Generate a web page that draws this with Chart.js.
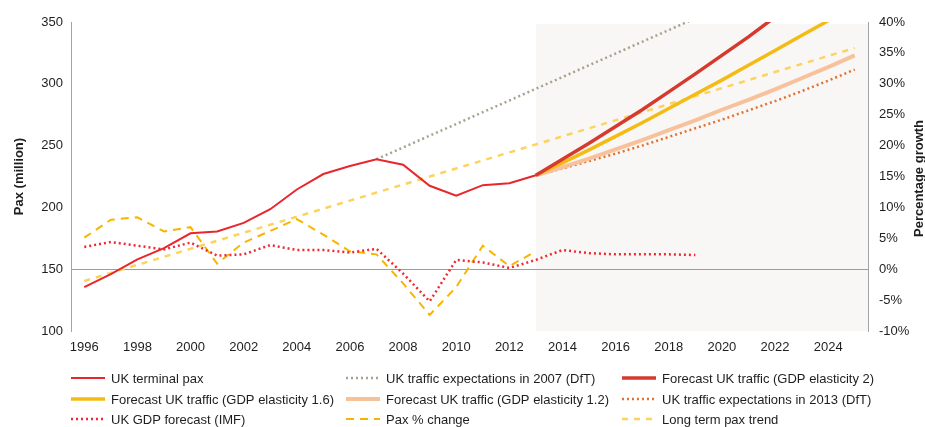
<!DOCTYPE html>
<html>
<head>
    <title>UK pax forecasts</title>
    <style>
        body {
            margin: 0;
            background-color: white;
        }

        #chart-box {
            width: 925px;
            height: 427px;
        }
    </style>
    <script src="https://cdn.jsdelivr.net/npm/chart.js"></script>
</head>
<body>
    <div id="chart-box">
        <canvas id="pax-chart" width="925" height="427"></canvas>
    </div>

    <script>
        // Years on the x axis (every other one gets a label)
        const years = ['1996', '1997', '1998', '1999', '2000', '2001', '2002', '2003', '2004', '2005',
                       '2006', '2007', '2008', '2009', '2010', '2011', '2012', '2013', '2014', '2015',
                       '2016', '2017', '2018', '2019', '2020', '2021', '2022', '2023', '2024', '2025'];
        const forecastStart = '2013';

        // Pax (million), left axis
        const ukTerminalPax = [135.5, 146, 158, 167, 179, 180.5, 187.5, 198.5, 214.5, 227,
                               233.5, 239, 234.5, 217.5, 209.5, 218, 219.5, 226,
                               null, null, null, null, null, null, null, null, null, null, null, null];
        const dft2007 = [null, null, null, null, null, null, null, null, null, null,
                         null, 239, 248.5, 258, 267.5, 277, 286.5, 296, 305.5, 315,
                         324.5, 334, 343.5, 353, null, null, null, null, null, null];
        const elasticity2 = [null, null, null, null, null, null, null, null, null, null,
                             null, null, null, null, null, null, null, 226, 239, 252,
                             265.5, 279, 293.5, 308, 323, 338, 354, null, null, null];
        const elasticity16 = [null, null, null, null, null, null, null, null, null, null,
                              null, null, null, null, null, null, null, 226, 236, 246.5,
                              257.5, 268.5, 280, 291.5, 303, 315, 327, 339, 351, null];
        const elasticity12 = [null, null, null, null, null, null, null, null, null, null,
                              null, null, null, null, null, null, null, 226, 232.5, 239.5,
                              247, 254.5, 262.5, 270.5, 279, 287, 295.5, 304.5, 313.5, 323];
        const dft2013 = [null, null, null, null, null, null, null, null, null, null,
                         null, null, null, null, null, null, null, 226, 231.5, 237.5,
                         243.5, 250, 257, 264, 271, 278.5, 286, 294, 302.5, 311.5];
        const longTermTrend = [140.5, 147, 153.5, 160, 166.5, 173, 179.5, 186, 192.5, 199,
                               205.5, 212, 218.5, 225, 231.5, 238, 244.5, 251, 257.5, 264,
                               270.5, 277, 283.5, 290, 296.5, 303, 309.5, 316, 322.5, 329];

        // Percentage growth, right axis
        const gdpForecastImf = [3.6, 4.4, 3.8, 3.2, 4.3, 2.2, 2.4, 3.9, 3.1, 3.1,
                                2.7, 3.3, -0.7, -5.2, 1.5, 1.1, 0.2, 1.5, 3.1, 2.6,
                                2.4, 2.4, 2.4, 2.3, null, null, null, null, null, null];
        const paxChange = [5.1, 8.0, 8.4, 6.1, 6.8, 0.9, 4.3, 6.2, 8.1, 5.6,
                           2.9, 2.4, -2.3, -7.4, -2.9, 3.8, 0.5, 2.9,
                           null, null, null, null, null, null, null, null, null, null, null, null];

        const fontFamily = '"Liberation Sans", Arial, sans-serif';
        const textColor = '#1e1e1e';
        const axisGray = '#a3a3a3';
        const dotted = [2, 3];

        // light grey panel behind the forecast years
        const forecastShade = {
            id: 'forecastShade',
            beforeDraw(chart) {
                const area = chart.chartArea;
                const x0 = chart.scales.x.getPixelForValue(years.indexOf(forecastStart));
                const ctx = chart.ctx;
                ctx.save();
                ctx.fillStyle = '#f8f7f5';
                ctx.fillRect(x0, area.top + 2, area.right - x0, area.bottom - area.top - 2);
                ctx.restore();
            }
        };

        // right axis title (reads upwards like the left one) and a 3 column legend
        const extras = {
            id: 'extras',
            afterDraw(chart) {
                const ctx = chart.ctx;
                const area = chart.chartArea;
                ctx.save();
                ctx.fillStyle = textColor;
                ctx.font = 'bold 13px ' + fontFamily;
                ctx.textAlign = 'center';
                ctx.textBaseline = 'middle';
                ctx.translate(919, (area.top + area.bottom) / 2 + 2);
                ctx.rotate(-Math.PI / 2);
                ctx.fillText('Percentage growth', 0, 0);
                ctx.restore();

                const colX = [71, 346, 622];
                const rowY = [378, 399, 419];
                ctx.save();
                ctx.font = '13px ' + fontFamily;
                ctx.textBaseline = 'middle';
                ctx.textAlign = 'left';
                chart.data.datasets.forEach((ds, i) => {
                    const x = colX[i % 3];
                    const y = rowY[Math.floor(i / 3)];
                    ctx.strokeStyle = ds.borderColor;
                    ctx.lineWidth = ds.borderWidth;
                    ctx.setLineDash(ds.borderDash || []);
                    ctx.beginPath();
                    ctx.moveTo(x, y);
                    ctx.lineTo(x + 34, y);
                    ctx.stroke();
                    ctx.fillStyle = textColor;
                    ctx.fillText(ds.label, x + 40, y + 1);
                });
                ctx.restore();
            }
        };

        const ctx = document.getElementById('pax-chart').getContext('2d');
        const myChart = new Chart(ctx, {
            type: 'line',
            data: {
                labels: years,
                datasets: [
                    { label: 'UK terminal pax', data: ukTerminalPax, yAxisID: 'y',
                      borderColor: '#e8262b', borderWidth: 2 },
                    { label: 'UK traffic expectations in 2007 (DfT)', data: dft2007, yAxisID: 'y',
                      borderColor: '#a8a18e', borderWidth: 2.5, borderDash: dotted },
                    { label: 'Forecast UK traffic (GDP elasticity 2)', data: elasticity2, yAxisID: 'y',
                      borderColor: '#d63a2e', borderWidth: 3.5 },
                    { label: 'Forecast UK traffic (GDP elasticity 1.6)', data: elasticity16, yAxisID: 'y',
                      borderColor: '#f5bb15', borderWidth: 3.5 },
                    { label: 'Forecast UK traffic (GDP elasticity 1.2)', data: elasticity12, yAxisID: 'y',
                      borderColor: '#f7c29b', borderWidth: 4 },
                    { label: 'UK traffic expectations in 2013 (DfT)', data: dft2013, yAxisID: 'y',
                      borderColor: '#e2702f', borderWidth: 2.5, borderDash: dotted },
                    { label: 'UK GDP forecast (IMF)', data: gdpForecastImf, yAxisID: 'y2',
                      borderColor: '#ee2a30', borderWidth: 2.5, borderDash: dotted },
                    { label: 'Pax % change', data: paxChange, yAxisID: 'y2',
                      borderColor: '#f7b500', borderWidth: 2, borderDash: [8, 6] },
                    { label: 'Long term pax trend', data: longTermTrend, yAxisID: 'y',
                      borderColor: '#fdd35c', borderWidth: 2.5, borderDash: [6, 6] }
                ]
            },
            options: {
                responsive: false,
                animation: false,
                devicePixelRatio: 1,
                layout: { padding: { top: 22, left: 0, right: 0, bottom: 0 } },
                elements: {
                    point: { radius: 0 },
                    line: { tension: 0, fill: false, borderCapStyle: 'butt' }
                },
                datasets: { line: { clip: 0, spanGaps: false } },
                plugins: {
                    legend: { display: false },
                    tooltip: { enabled: false }
                },
                scales: {
                    x: {
                        offset: true,
                        grid: { display: false, drawTicks: false },
                        border: { display: false },
                        ticks: {
                            autoSkip: false,
                            maxRotation: 0,
                            padding: 9,
                            color: textColor,
                            font: { family: fontFamily, size: 13 },
                            callback: function (value, index) {
                                return index % 2 === 0 ? this.getLabelForValue(value) : '';
                            }
                        },
                        afterFit(scale) { scale.height = 96; }
                    },
                    y: {
                        position: 'left',
                        min: 100,
                        max: 350,
                        ticks: {
                            stepSize: 50,
                            padding: 8,
                            color: textColor,
                            font: { family: fontFamily, size: 13 }
                        },
                        grid: { display: false, drawTicks: false },
                        border: { display: true, color: axisGray, width: 1 },
                        title: {
                            display: true,
                            text: 'Pax (million)',
                            color: textColor,
                            font: { family: fontFamily, size: 13, weight: 'bold' },
                            padding: { top: 12, bottom: 0 }
                        },
                        afterFit(scale) { scale.width = 71; }
                    },
                    y2: {
                        position: 'right',
                        min: -10,
                        max: 40,
                        ticks: {
                            stepSize: 5,
                            padding: 11,
                            color: textColor,
                            font: { family: fontFamily, size: 13 },
                            callback: (v) => v + '%'
                        },
                        grid: {
                            drawTicks: false,
                            drawOnChartArea: true,
                            lineWidth: 1,
                            color: (c) => (c.tick && c.tick.value === 0 ? '#9c9c9c' : 'rgba(0,0,0,0)')
                        },
                        border: { display: true, color: axisGray, width: 1 },
                        afterFit(scale) { scale.width = 57; }
                    }
                }
            },
            plugins: [forecastShade, extras]
        });
    </script>
</body>
</html>
